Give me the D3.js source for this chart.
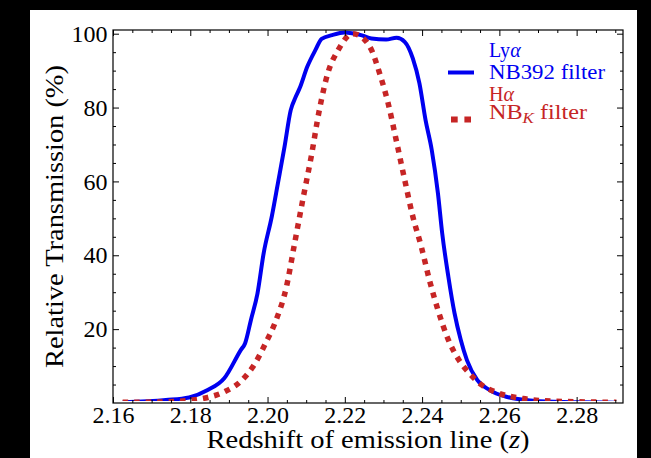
<!DOCTYPE html>
<html>
<head>
<meta charset="utf-8">
<script src="https://cdn.jsdelivr.net/npm/d3@7"></script>
<style>
  html, body { margin: 0; padding: 0; background: #000; }
  svg { display: block; }
  text { font-family: "Liberation Serif", "Times New Roman", serif; fill: #000; }
</style>
</head>
<body>
<svg id="chart" width="651" height="458"></svg>
<script>
// ---- Data ----
const lyaZ = [2.1625, 2.1737, 2.1797, 2.1845, 2.1888, 2.1931, 2.1942, 2.1957, 2.1974, 2.1990,
  2.2011, 2.2027, 2.2044, 2.2060, 2.2073, 2.2083, 2.2103, 2.2124, 2.2140, 2.2167,
  2.2199, 2.2242, 2.2269, 2.2307, 2.2334, 2.2355, 2.2376, 2.2393, 2.2409, 2.2425,
  2.2441, 2.2452, 2.2468, 2.2484, 2.2500, 2.2516, 2.2543, 2.2575, 2.2618, 2.2704,
  2.2811, 2.2903];
const lyaT = [0.2, 0.8, 1.5, 3.5, 6.7, 14.4, 16.2, 22.5, 29.7, 40.6,
  50.5, 59.6, 69.4, 79.3, 82.9, 85.2, 91.1, 95.6, 98.6, 99.6,
  100.3, 99.6, 98.7, 98.4, 98.9, 97.8, 93.3, 86.6, 76.6, 68.5,
  56.8, 46.0, 34.2, 24.3, 17.1, 11.6, 6.2, 3.5, 1.7, 0.5,
  0.2, 0.1];

const haZ = [2.1625, 2.1737, 2.1804, 2.1845, 2.1888, 2.1931, 2.1968, 2.1995, 2.2022, 2.2049,
  2.2070, 2.2091, 2.2113, 2.2134, 2.2156, 2.2183, 2.2220, 2.2250, 2.2269, 2.2290,
  2.2312, 2.2333, 2.2355, 2.2376, 2.2398, 2.2419, 2.2441, 2.2468, 2.2495, 2.2522,
  2.2554, 2.2597, 2.2661, 2.2737, 2.2903];
const haT = [0.2, 0.3, 0.8, 1.5, 3.0, 5.9, 10.8, 16.2, 22.4, 31.5,
  43.2, 54.9, 66.7, 79.3, 89.3, 95.6, 100.0, 98.5, 95.6, 89.3,
  81.2, 71.2, 60.4, 50.5, 42.3, 33.3, 25.2, 17.1, 11.7, 8.1,
  4.9, 2.7, 1.2, 0.5, 0.2];

const xTicks = [2.16, 2.18, 2.20, 2.22, 2.24, 2.26, 2.28];
const yTicks = [20, 40, 60, 80, 100];
const xMinor = [2.165, 2.17, 2.175, 2.185, 2.19, 2.195, 2.205, 2.21, 2.215, 2.225, 2.23, 2.235,
  2.245, 2.25, 2.255, 2.265, 2.27, 2.275, 2.285, 2.29];
const yMinor = [5, 10, 15, 25, 30, 35, 45, 50, 55, 65, 70, 75, 85, 90, 95];

const xLabel = "Redshift of emission line";
const yLabel = "Relative Transmission (%)";

// ---- Layout ----
const svg = d3.select("#chart");
const L = 113, R = 623, T = 30, B = 403;
const blue = "#0000f0", red = "#c62525";

svg.append("rect").attr("x", 30).attr("y", 10).attr("width", 607).attr("height", 448).attr("fill", "#fff");

const x = d3.scaleLinear().domain([2.16, 2.292]).range([L, R]);
const y = d3.scaleLinear().domain([0, 101]).range([B, T]);

// curves
const line = d3.line().x(d => x(d[0])).y(d => y(d[1])).curve(d3.curveMonotoneX);
const lya = lyaZ.map((z, i) => [z, lyaT[i]]);
const ha = haZ.map((z, i) => [z, haT[i]]);

svg.append("defs").append("clipPath").attr("id", "clip")
  .append("rect").attr("x", L).attr("y", T - 5).attr("width", R - L).attr("height", B - T + 3);

const g = svg.append("g").attr("clip-path", "url(#clip)");
g.append("path").datum(lya).attr("d", line).attr("fill", "none")
  .attr("stroke", blue).attr("stroke-width", 4).attr("stroke-linejoin", "round");
g.append("path").datum(ha).attr("d", line).attr("fill", "none")
  .attr("stroke", red).attr("stroke-width", 5.5).attr("stroke-dasharray", "5.5,6");

// axes
function style(sel) {
  sel.select(".domain").remove();
  sel.selectAll("line").attr("stroke", "#000").attr("stroke-width", 1);
  sel.selectAll("text").attr("font-family", "Liberation Serif").attr("font-size", 24).attr("fill", "#000");
}
const fmtX = d3.format(".2f");
svg.append("g").attr("transform", `translate(0,${B})`)
  .call(d3.axisBottom(x).tickValues(xTicks).tickFormat(fmtX).tickSizeInner(-6).tickSizeOuter(0).tickPadding(3)).call(style);
svg.append("g").attr("transform", `translate(0,${B})`)
  .call(d3.axisBottom(x).tickValues(xMinor).tickFormat("").tickSizeInner(-3).tickSizeOuter(0)).call(style);
svg.append("g").attr("transform", `translate(0,${T})`)
  .call(d3.axisTop(x).tickValues(xTicks).tickFormat("").tickSizeInner(-6).tickSizeOuter(0)).call(style);
svg.append("g").attr("transform", `translate(0,${T})`)
  .call(d3.axisTop(x).tickValues(xMinor).tickFormat("").tickSizeInner(-3).tickSizeOuter(0)).call(style);

svg.append("g").attr("transform", `translate(${L},0)`)
  .call(d3.axisLeft(y).tickValues(yTicks).tickFormat(d3.format("d")).tickSizeInner(-6).tickSizeOuter(0).tickPadding(5.5)).call(style);
svg.append("g").attr("transform", `translate(${L},0)`)
  .call(d3.axisLeft(y).tickValues(yMinor).tickFormat("").tickSizeInner(-3).tickSizeOuter(0)).call(style);
svg.append("g").attr("transform", `translate(${R},0)`)
  .call(d3.axisRight(y).tickValues(yTicks).tickFormat("").tickSizeInner(-6).tickSizeOuter(0)).call(style);
svg.append("g").attr("transform", `translate(${R},0)`)
  .call(d3.axisRight(y).tickValues(yMinor).tickFormat("").tickSizeInner(-3).tickSizeOuter(0)).call(style);

// frame
svg.append("rect").attr("x", L).attr("y", T).attr("width", R - L).attr("height", B - T)
  .attr("fill", "none").attr("stroke", "#000").attr("stroke-width", 1.2);

// axis labels
const xl = svg.append("text").attr("x", (L + R) / 2).attr("y", 448).attr("text-anchor", "middle")
  .attr("font-size", 26).attr("textLength", 323).attr("lengthAdjust", "spacingAndGlyphs");
xl.append("tspan").text(xLabel + " (");
xl.append("tspan").attr("font-style", "italic").text("z");
xl.append("tspan").text(")");

svg.append("text").attr("transform", `translate(63,${(T + B) / 2}) rotate(-90)`)
  .attr("text-anchor", "middle").attr("font-size", 26)
  .attr("textLength", 303).attr("lengthAdjust", "spacingAndGlyphs").text(yLabel);

// legend
const lg = svg.append("g");
const t1 = lg.append("text").attr("x", 489).attr("y", 57).attr("font-size", 20).style("fill", blue);
t1.append("tspan").text("Ly");
t1.append("tspan").attr("font-style", "italic").text("α");
lg.append("text").attr("x", 489).attr("y", 78.5).attr("font-size", 20).style("fill", blue)
  .attr("textLength", 116).attr("lengthAdjust", "spacingAndGlyphs").text("NB392 filter");
lg.append("line").attr("x1", 448).attr("x2", 474).attr("y1", 72.5).attr("y2", 72.5)
  .attr("stroke", blue).attr("stroke-width", 4);

const t2 = lg.append("text").attr("x", 489).attr("y", 101).attr("font-size", 20).style("fill", red);
t2.append("tspan").text("H");
t2.append("tspan").attr("font-style", "italic").text("α");
const t3 = lg.append("text").attr("x", 489).attr("y", 119).attr("font-size", 20).style("fill", red)
  .attr("textLength", 98).attr("lengthAdjust", "spacingAndGlyphs");
t3.append("tspan").text("NB");
t3.append("tspan").attr("font-style", "italic").attr("font-size", 14).attr("dy", 4).text("K");
t3.append("tspan").attr("dy", -4).text(" filter");
lg.append("line").attr("x1", 451).attr("x2", 471).attr("y1", 119.5).attr("y2", 119.5)
  .attr("stroke", red).attr("stroke-width", 6).attr("stroke-dasharray", "6.7,6.7");
</script>
</body>
</html>
